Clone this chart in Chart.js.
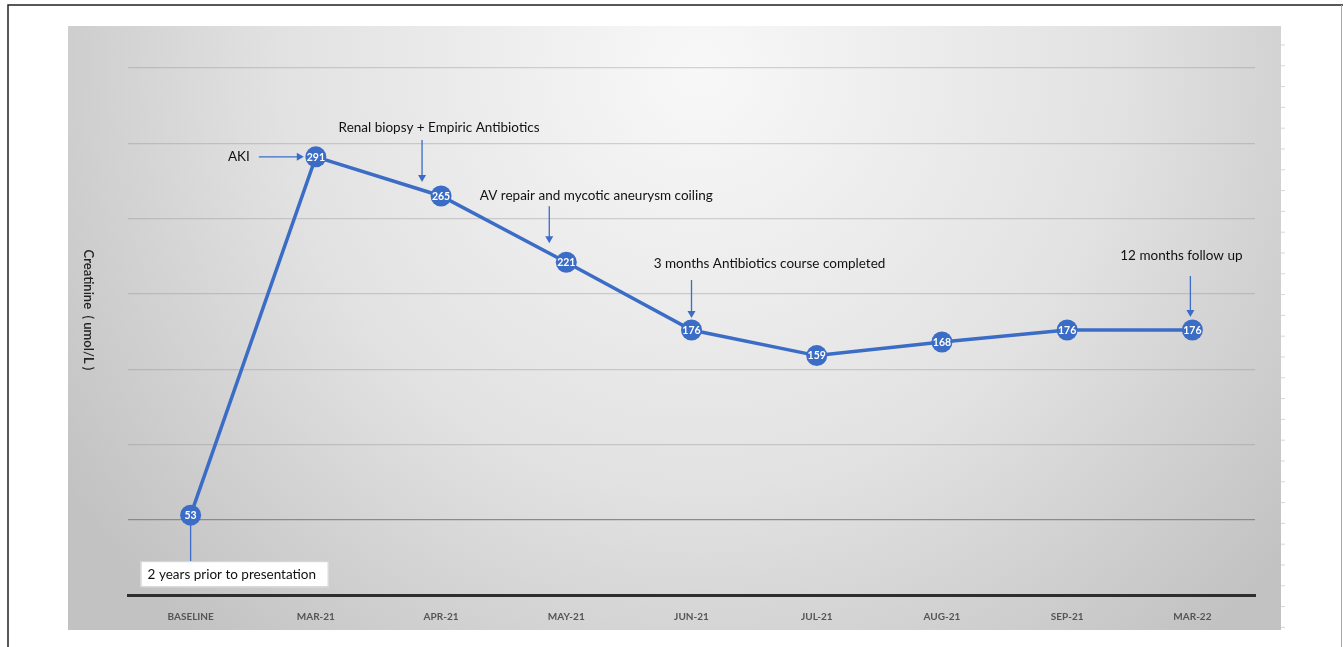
<!DOCTYPE html>
<html>
<head>
<meta charset="utf-8">
<script src="https://cdn.jsdelivr.net/npm/chart.js@4"></script>
<style>
  html, body { margin: 0; padding: 0; background: #fff; }
  #wrap { position: relative; width: 1343px; height: 647px; }
</style>
</head>
<body>
<div id="wrap"><canvas id="chart"></canvas></div>
<script>
const months = ['BASELINE', 'MAR-21', 'APR-21', 'MAY-21', 'JUN-21', 'JUL-21', 'AUG-21', 'SEP-21', 'MAR-22'];
const creatinine = [53, 291, 265, 221, 176, 159, 168, 176, 176];
const yTitle = 'Creatinine  ( umol/L )';
const eventLabels = ['AKI', 'Renal biopsy + Empiric Antibiotics', 'AV repair and mycotic aneurysm coiling', '3 months Antibiotics course completed', '12 months follow up'];
const eventIndex = [1, 2, 3, 4, 8];
const baselineNote = '2 years prior to presentation';

const blue = '#3b6cc6';
const textFont = '"Lato", "Open Sans", sans-serif';

// where each event text / arrow sits relative to its point
const eventLayout = [
  { kind: 'left', tx: -66, ty: 0 },
  { kind: 'down', tx: -2, ty: -68, ax: -19, a0: -56, a1: -14 },
  { kind: 'down', tx: 30, ty: -67, ax: -17, a0: -56, a1: -19 },
  { kind: 'down', tx: 78, ty: -66, ax: 0, a0: -50, a1: -12 },
  { kind: 'down', tx: -11, ty: -74, ax: -2, a0: -54, a1: -13 },
];

function arrowHead(ctx, x, y, dir) {
  ctx.beginPath();
  if (dir === 'right') {
    ctx.moveTo(x, y); ctx.lineTo(x - 7, y - 4); ctx.lineTo(x - 7, y + 4);
  } else {
    ctx.moveTo(x, y); ctx.lineTo(x - 4, y - 7); ctx.lineTo(x + 4, y - 7);
  }
  ctx.closePath();
  ctx.fill();
}

const backdrop = {
  id: 'backdrop',
  beforeDraw(chart) {
    const ctx = chart.ctx;
    ctx.save();
    ctx.fillStyle = '#fff';
    ctx.fillRect(0, 0, chart.width, chart.height);
    // outer frame
    ctx.strokeStyle = '#222';
    ctx.lineWidth = 1.5;
    ctx.beginPath();
    ctx.moveTo(8, chart.height); ctx.lineTo(8, 5); ctx.lineTo(chart.width, 5);
    ctx.stroke();
    ctx.strokeStyle = '#aaa';
    ctx.lineWidth = 1;
    ctx.beginPath();
    ctx.moveTo(1341.5, 5); ctx.lineTo(1341.5, chart.height);
    ctx.stroke();
    // grey panel
    const g = ctx.createRadialGradient(700, 70, 0, 700, 70, 760);
    g.addColorStop(0, '#f8f8f8');
    g.addColorStop(0.55, '#e2e2e2');
    g.addColorStop(1, '#c2c2c2');
    ctx.fillStyle = g;
    ctx.fillRect(68, 26, 1213, 604);
    // small marks along the right edge of the panel
    ctx.strokeStyle = '#d8d8d8';
    for (let y = 45; y < 630; y += 20.8) {
      ctx.beginPath();
      ctx.moveTo(1281, y); ctx.lineTo(1285, y);
      ctx.stroke();
    }
    ctx.restore();
  },
  afterDatasetsDraw(chart) {
    const ctx = chart.ctx;
    const pts = chart.getDatasetMeta(0).data;
    ctx.save();
    // y title, reading top to bottom
    ctx.translate(88, 310);
    ctx.rotate(Math.PI / 2);
    ctx.fillStyle = '#222';
    ctx.font = '600 13px ' + textFont;
    ctx.textAlign = 'center';
    ctx.textBaseline = 'middle';
    ctx.fillText(yTitle, 0, 0);
    ctx.restore();

    ctx.save();
    // value badges
    pts.forEach((p, i) => {
      ctx.fillStyle = blue;
      ctx.beginPath();
      ctx.arc(p.x, p.y, 10.5, 0, Math.PI * 2);
      ctx.fill();
      ctx.fillStyle = '#fff';
      ctx.font = 'bold 10.5px ' + textFont;
      ctx.textAlign = 'center';
      ctx.textBaseline = 'middle';
      ctx.fillText(String(creatinine[i]), p.x, p.y + 0.5);
    });

    // event annotations
    ctx.font = '13.5px ' + textFont;
    ctx.textBaseline = 'middle';
    ctx.strokeStyle = blue;
    ctx.lineWidth = 1.3;
    eventIndex.forEach((idx, k) => {
      const p = pts[idx];
      const L = eventLayout[k];
      ctx.fillStyle = '#111';
      if (L.kind === 'left') {
        ctx.textAlign = 'right';
        ctx.fillText(eventLabels[k], p.x + L.tx, p.y + L.ty);
        ctx.beginPath();
        ctx.moveTo(p.x - 57, p.y); ctx.lineTo(p.x - 16, p.y);
        ctx.stroke();
        ctx.fillStyle = blue;
        arrowHead(ctx, p.x - 12, p.y, 'right');
      } else {
        ctx.textAlign = 'center';
        ctx.fillText(eventLabels[k], p.x + L.tx, p.y + L.ty);
        ctx.beginPath();
        ctx.moveTo(p.x + L.ax, p.y + L.a0); ctx.lineTo(p.x + L.ax, p.y + L.a1 - 4);
        ctx.stroke();
        ctx.fillStyle = blue;
        arrowHead(ctx, p.x + L.ax, p.y + L.a1, 'down');
      }
    });

    // baseline callout box
    const b = pts[0];
    ctx.beginPath();
    ctx.moveTo(b.x, b.y + 10); ctx.lineTo(b.x, b.y + 46);
    ctx.stroke();
    ctx.fillStyle = '#fff';
    ctx.strokeStyle = '#d0d0d0';
    ctx.lineWidth = 1;
    ctx.fillRect(b.x - 50, b.y + 46, 188, 26);
    ctx.strokeRect(b.x - 49.5, b.y + 46.5, 187, 25);
    ctx.fillStyle = '#111';
    ctx.textAlign = 'left';
    ctx.fillText(baselineNote, b.x - 43, b.y + 59.5);
    ctx.restore();
  }
};

new Chart(document.getElementById('chart'), {
  type: 'line',
  data: {
    labels: months,
    datasets: [{
      label: 'Creatinine',
      data: creatinine,
      borderColor: blue,
      borderWidth: 3.5,
      pointRadius: 0,
      tension: 0,
      fill: false,
    }],
  },
  options: {
    responsive: true,
    maintainAspectRatio: false,
    animation: false,
    layout: { padding: { left: 128, right: 88, top: 68, bottom: 22 } },
    plugins: {
      legend: { display: false },
      tooltip: { enabled: false },
    },
    scales: {
      x: {
        offset: true,
        grid: { display: false },
        border: { display: true, color: '#2e2e2e', width: 3 },
        ticks: {
          color: '#555',
          padding: 8,
          font: { family: textFont, size: 10, weight: 'bold' },
          maxRotation: 0,
        },
        afterFit: (s) => { s.height = 30; },
      },
      y: {
        min: 0,
        max: 350,
        ticks: { display: false, stepSize: 50 },
        border: { display: false },
        grid: {
          drawTicks: false,
          lineWidth: 1.2,
          color: (c) => (c.tick && c.tick.value === 50 ? '#8a8a8a' : 'rgba(140,140,140,0.35)'),
        },
        afterFit: (s) => { s.width = 0; },
      },
    },
  },
  plugins: [backdrop],
});
</script>
</body>
</html>
